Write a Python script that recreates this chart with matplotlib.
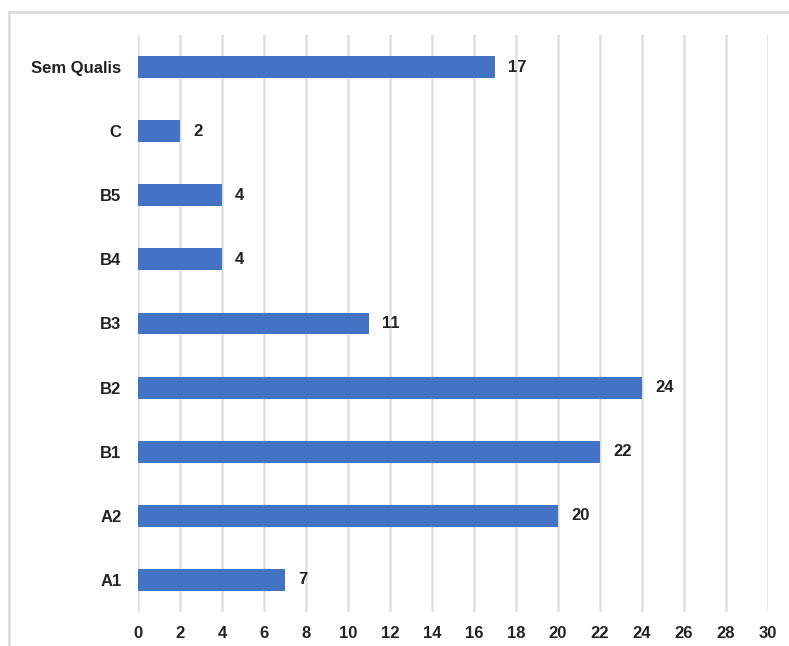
import matplotlib.pyplot as plt
from matplotlib.lines import Line2D

categories = ['A1', 'A2', 'B1', 'B2', 'B3', 'B4', 'B5', 'C', 'Sem Qualis']
counts = [7, 20, 22, 24, 11, 4, 4, 2, 17]
xticks = list(range(0, 31, 2))

plt.rcParams['font.family'] = ['Liberation Sans', 'DejaVu Sans']

fig = plt.figure(figsize=(7.89, 6.46), dpi=100)
ax = fig.add_axes([138 / 789, 1 - 612 / 646, 630 / 789, 577 / 646])

bars = ax.barh(range(len(categories)), counts, height=0.34, color='#4472c4', zorder=3)
for b, v in zip(bars, counts):
    ax.text(b.get_width() + 0.62, b.get_y() + b.get_height() / 2, str(v),
            va='center', ha='left', fontsize=12, fontweight='bold', color='#222222')

ax.set_xlim(0, 30)
ax.set_ylim(-0.5, len(categories) - 0.5)
ax.set_xticks(xticks)
ax.set_yticks(range(len(categories)))
ax.set_yticklabels(categories)
ax.tick_params(length=0, labelsize=12, colors='#222222')
ax.tick_params(axis='y', pad=12)
ax.tick_params(axis='x', pad=10)
for lab in ax.get_xticklabels() + ax.get_yticklabels():
    lab.set_fontweight('bold')
ax.grid(axis='x', color='#e0e0e0', linewidth=1.8, zorder=0)
ax.grid(axis='y', visible=False)
for s in ax.spines.values():
    s.set_visible(False)

# outer frame (top and left edges visible)
fig.add_artist(Line2D([9 / 789, 1], [1 - 12 / 646] * 2, color='#d9d9d9', lw=1.8,
                      transform=fig.transFigure))
fig.add_artist(Line2D([9 / 789] * 2, [0, 1 - 12 / 646], color='#d9d9d9', lw=1.8,
                      transform=fig.transFigure))

fig.savefig('out.png', dpi=100)
